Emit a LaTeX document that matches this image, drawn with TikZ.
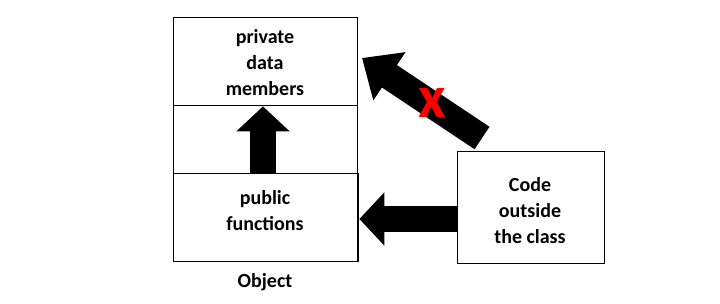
\documentclass[tikz,border=0pt]{standalone}
\usepackage{fontspec}
\setmainfont{Carlito}
\usetikzlibrary{arrows.meta}
\begin{document}
\begin{tikzpicture}[x=1pt,y=-1pt,
  box/.style={draw,line width=1.4pt,inner sep=0pt},
  lbl/.style={font=\fontsize{20}{26}\selectfont\bfseries,align=center},
  blockarrow/.style={line width=26pt,-{Triangle[width=52pt,length=25pt]}},
]
\useasboundingbox (0,0) rectangle (720,303);
\node[box,minimum width=184pt,minimum height=244pt,anchor=north west] (obj) at (173,17) {};
\node[box,minimum width=184pt,minimum height=88pt,anchor=north west] (priv) at (173,17) {};
\node[box,minimum width=185pt,minimum height=88pt,anchor=north west] (pub) at (173,173) {};
\node[lbl] at (265,63) {private\\data\\members};
\node[lbl] at (265,211) {public\\functions};
\node[lbl] (objlbl) at (265,282) {Object};
\node[box,minimum width=147pt,minimum height=112pt,anchor=north west] (code) at (457,151) {};
\node[lbl] at (530,211) {Code\\outside\\the class};
\coordinate (diagtail) at (482,138);
\coordinate (diagtip) at (362,58);
\draw[blockarrow] (pub.north -| 263,0) -- (priv.south -| 263,0);
\draw[blockarrow] (code.west |- 0,219) -- (pub.east |- 0,219);
\draw[line width=27pt,-{Triangle[width=56pt,length=33pt]}] (diagtail) -- (diagtip);
\node[text=red,font=\fontsize{60}{60}\selectfont\bfseries] (cross) at (432,103) {x};
\end{tikzpicture}
\end{document}
